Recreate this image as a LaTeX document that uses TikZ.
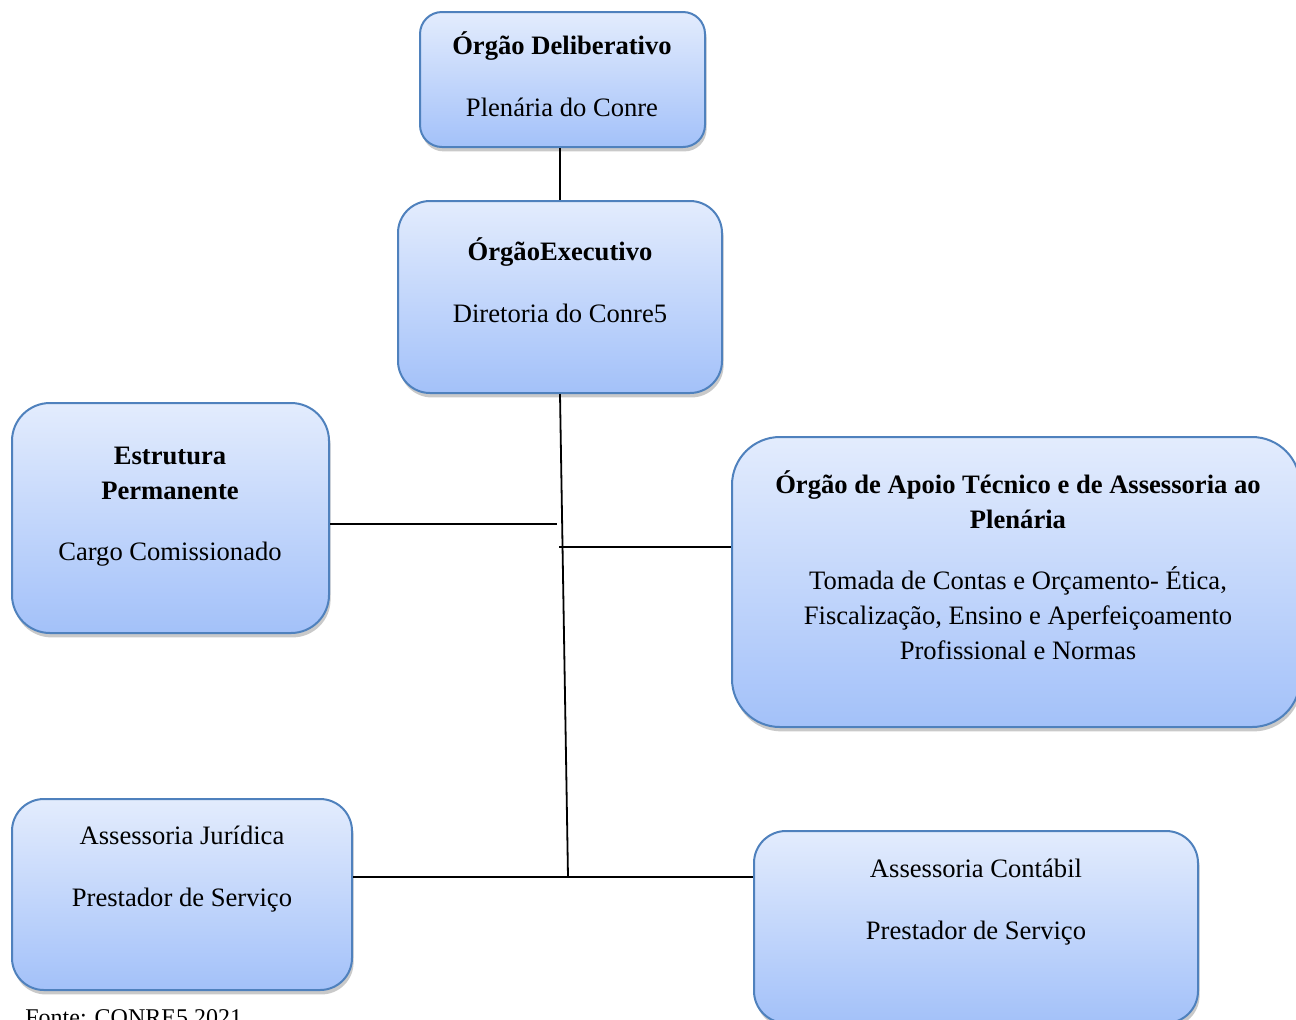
\documentclass[tikz,border=0pt]{standalone}
\usepackage{fontspec}
\setmainfont{Liberation Serif}
\usetikzlibrary{positioning,shadows}

\definecolor{boxtop}{RGB}{227,236,253}
\definecolor{boxbot}{RGB}{163,193,249}
\definecolor{boxline}{RGB}{79,129,189}

\tikzset{
  orgbox/.style={draw=boxline, line width=1pt, top color=boxtop, bottom color=boxbot,
    drop shadow={shadow xshift=0.8pt, shadow yshift=-2.2pt, opacity=0.35, fill=black!60},
    inner sep=0pt},
  orgtext/.style={align=center, font=\fontsize{13.3}{17.5}\selectfont, inner sep=0pt},
  link/.style={line width=0.9pt, black}
}

\begin{document}
\begin{tikzpicture}[x=1pt,y=1pt]
\useasboundingbox (0,0) rectangle (648,-509.5);
\fill[white] (0,0) rectangle (648,-509.5);

% boxes
\node[orgbox, rounded corners=11pt, minimum width=142.5pt, minimum height=67.5pt] (delib) at (281.25,-39.75) {};
\node[orgbox, rounded corners=16pt, minimum width=162pt, minimum height=96pt] (exec) at (280,-148.5) {};
\node[orgbox, rounded corners=19pt, minimum width=158.5pt, minimum height=115pt] (perm) at (85.25,-259) {};
\node[orgbox, rounded corners=24pt, minimum width=284pt, minimum height=145pt] (apoio) at (508,-291) {};
\node[orgbox, rounded corners=16pt, minimum width=170pt, minimum height=95.5pt] (jur) at (91,-447.25) {};
\node[orgbox, rounded corners=16pt, minimum width=222pt, minimum height=96pt] (cont) at (488,-463.5) {};

% texts
\node[orgtext] (delib-t) at (281,-37) {\textbf{Órgão Deliberativo}\\[13.25pt] Plenária do Conre};
\node[orgtext] (exec-t) at (280,-140) {\textbf{ÓrgãoExecutivo}\\[13.25pt] Diretoria do Conre5};
\node[orgtext] (perm-t) at (85,-253.5) {\textbf{Estrutura}\\ \textbf{Permanente}\\[13pt] Cargo Comissionado};
\node[orgtext] (apoio-t) at (509,-282.75) {\textbf{Órgão de Apoio Técnico e de Assessoria ao}\\ \textbf{Plenária}\\[13pt]
  Tomada de Contas e Orçamento- Ética,\\ Fiscalização, Ensino e Aperfeiçoamento\\ Profissional e Normas};
\node[orgtext] (jur-t) at (91,-434.5) {Assessoria Jurídica\\[13.25pt] Prestador de Serviço};
\node[orgtext] (cont-t) at (488,-451) {Assessoria Contábil\\[13.25pt] Prestador de Serviço};

% links
\coordinate (hub) at (284,-438.5);
\coordinate (pj) at (278.5,-262);
\coordinate (aj) at (279.5,-273.5);
\draw[link] (exec.north) -- (exec.north |- delib.south);
\draw[link] (exec.south) -- (hub);
\draw[link] (perm.east |- pj) -- (pj);
\draw[link] (aj) -- (apoio.west |- aj);
\draw[link] (jur.east |- hub) -- (cont.west |- hub);

\node[font=\fontsize{12}{14}\selectfont, anchor=base west, inner sep=0pt] (src) at (12.5,-512.5) {Fonte: CONRE5 2021};
\end{tikzpicture}
\end{document}
